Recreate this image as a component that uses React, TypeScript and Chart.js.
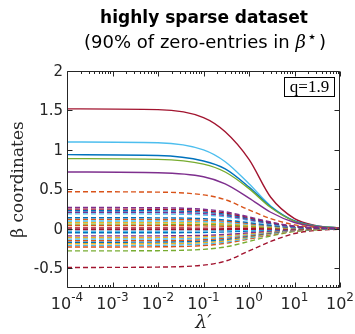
import React, { useEffect, useRef } from "react";
import { Chart, registerables } from "chart.js";

Chart.register(...registerables);

// lambda' sample points (log axis)
const LAMBDA = [1e-4, 1e-2, 0.1, 0.3, 1, 3, 10, 30, 100];

// solid curves (non-zero entries of beta*)
const SOLID_RED = [1.52, 1.51, 1.41, 1.23, 0.88, 0.4, 0.13, 0.04, 0.01];
const SOLID_LIGHTBLUE = [1.1, 1.09, 1.0, 0.85, 0.57, 0.29, 0.1, 0.035, 0.01];
const SOLID_BLUE = [0.94, 0.93, 0.86, 0.76, 0.53, 0.28, 0.1, 0.035, 0.01];
const SOLID_GREEN = [0.89, 0.88, 0.82, 0.72, 0.51, 0.27, 0.095, 0.033, 0.01];
const SOLID_PURPLE = [0.72, 0.71, 0.66, 0.57, 0.39, 0.21, 0.08, 0.028, 0.008];

// dashed curves (zero entries of beta*)
const DASHED_ORANGE = [0.47, 0.465, 0.43, 0.37, 0.24, 0.13, 0.05, 0.018, 0.005];
const DASHED_RED = [-0.49, -0.485, -0.46, -0.41, -0.28, -0.16, -0.06, -0.02, -0.006];
const DASHED_GREEN = [-0.28, -0.277, -0.26, -0.23, -0.16, -0.09, -0.035, -0.012, -0.003];
const DASHED_CLUSTER = [
  [0.27, 0.267, 0.248, 0.216, 0.151, 0.086, 0.032, 0.011, 0.003],
  [0.25, 0.248, 0.23, 0.2, 0.14, 0.08, 0.03, 0.01, 0.003],
  [0.23, 0.228, 0.212, 0.184, 0.129, 0.074, 0.028, 0.009, 0.002],
  [0.21, 0.208, 0.193, 0.168, 0.118, 0.067, 0.025, 0.008, 0.002],
  [0.19, 0.188, 0.175, 0.152, 0.106, 0.061, 0.023, 0.008, 0.002],
  [0.14, 0.139, 0.129, 0.112, 0.078, 0.045, 0.017, 0.006, 0.001],
  [0.12, 0.119, 0.11, 0.096, 0.067, 0.038, 0.014, 0.005, 0.001],
  [0.1, 0.099, 0.092, 0.08, 0.056, 0.032, 0.012, 0.004, 0.001],
  [0.08, 0.079, 0.074, 0.064, 0.045, 0.026, 0.01, 0.003, 0.001],
  [0.06, 0.059, 0.055, 0.048, 0.034, 0.019, 0.007, 0.002, 0.001],
  [0.04, 0.04, 0.037, 0.032, 0.022, 0.013, 0.005, 0.002, 0],
  [0.01, 0.01, 0.009, 0.008, 0.006, 0.003, 0.001, 0, 0],
  [-0.01, -0.01, -0.009, -0.008, -0.006, -0.003, -0.001, 0, 0],
  [-0.03, -0.03, -0.028, -0.024, -0.017, -0.01, -0.004, -0.001, 0],
  [-0.05, -0.05, -0.046, -0.04, -0.028, -0.016, -0.006, -0.002, -0.001],
  [-0.09, -0.089, -0.083, -0.072, -0.05, -0.029, -0.011, -0.004, -0.001],
  [-0.11, -0.109, -0.101, -0.088, -0.062, -0.035, -0.013, -0.004, -0.001],
  [-0.13, -0.129, -0.12, -0.104, -0.073, -0.042, -0.016, -0.005, -0.001],
  [-0.15, -0.149, -0.138, -0.12, -0.084, -0.048, -0.018, -0.006, -0.002],
  [-0.17, -0.168, -0.156, -0.136, -0.095, -0.054, -0.02, -0.007, -0.002],
  [-0.19, -0.188, -0.175, -0.152, -0.106, -0.061, -0.023, -0.008, -0.002],
  [-0.21, -0.208, -0.193, -0.168, -0.118, -0.067, -0.025, -0.008, -0.002],
  [-0.23, -0.228, -0.212, -0.184, -0.129, -0.074, -0.028, -0.009, -0.002],
];

const Y_TICKS = [-0.5, 0, 0.5, 1, 1.5, 2];
const X_EXPONENTS = [-4, -3, -2, -1, 0, 1, 2];

const TITLE_LINE1 = "highly sparse dataset";
const TITLE_LINE2_A = "(90% of zero-entries in ";
const TITLE_LINE2_BETA = "β";
const TITLE_LINE2_STAR = "⋆";
const TITLE_LINE2_B = ")";
const Y_TITLE = "β coordinates";
const X_TITLE = "λ′";
const BOX_TEXT = "q=1.9";

const C = {
  blue: "#0072BD",
  orange: "#D95319",
  yellow: "#EDB120",
  purple: "#7E2F8E",
  green: "#77AC30",
  lightblue: "#4DBEEE",
  red: "#A2142F",
};
const CLUSTER_COLORS = [
  C.purple, C.red, C.blue, C.purple, C.lightblue,
  C.blue, C.orange, C.lightblue, C.yellow, C.green,
  C.orange, C.red, C.red, C.lightblue, C.blue,
  C.purple, C.yellow, C.lightblue, C.orange, C.blue,
  C.yellow, C.lightblue, C.orange,
];

const AXIS = "#262626";

const toPts = (vals: number[]) => vals.map((v, i) => ({ x: LAMBDA[i], y: v }));

const axesPlugin = {
  id: "matlabAxes",
  afterDraw(chart: any) {
    const { ctx, chartArea: a, scales } = chart;
    const xs = scales.x;
    const ys = scales.y;
    ctx.save();
    ctx.strokeStyle = AXIS;
    ctx.fillStyle = AXIS;
    ctx.lineWidth = 1;
    const L = Math.round(a.left) + 0.5;
    const R = Math.round(a.right) - 0.5;
    const T = Math.round(a.top) + 0.5;
    const B = Math.round(a.bottom) - 0.5;
    ctx.beginPath();
    ctx.rect(L, T, R - L, B - T);
    ctx.stroke();

    ctx.beginPath();
    for (let e = -4; e <= 2; e++) {
      const px = Math.round(xs.getPixelForValue(Math.pow(10, e))) + 0.5;
      ctx.moveTo(px, B); ctx.lineTo(px, B - 5);
      ctx.moveTo(px, T); ctx.lineTo(px, T + 5);
      if (e < 2) {
        for (let m = 2; m <= 9; m++) {
          const mx = Math.round(xs.getPixelForValue(m * Math.pow(10, e))) + 0.5;
          ctx.moveTo(mx, B); ctx.lineTo(mx, B - 2.5);
          ctx.moveTo(mx, T); ctx.lineTo(mx, T + 2.5);
        }
      }
    }
    for (const v of Y_TICKS) {
      const py = Math.round(ys.getPixelForValue(v)) + 0.5;
      ctx.moveTo(L, py); ctx.lineTo(L + 5, py);
      ctx.moveTo(R, py); ctx.lineTo(R - 5, py);
    }
    ctx.stroke();

    // y tick labels
    ctx.font = "15px 'DejaVu Sans'";
    ctx.textAlign = "right";
    ctx.textBaseline = "middle";
    for (const v of Y_TICKS) {
      ctx.fillText(String(v), a.left - 4, ys.getPixelForValue(v) + 1);
    }

    // x tick labels 10^e
    ctx.textBaseline = "alphabetic";
    ctx.textAlign = "left";
    for (const e of X_EXPONENTS) {
      const px = xs.getPixelForValue(Math.pow(10, e));
      const base = "10";
      const exp = String(e);
      ctx.font = "16px 'DejaVu Sans'";
      const wb = ctx.measureText(base).width;
      ctx.font = "12px 'DejaVu Sans'";
      const we = ctx.measureText(exp).width;
      const x0 = px - (wb + we) / 2;
      ctx.font = "16px 'DejaVu Sans'";
      ctx.fillText(base, x0, 309);
      ctx.font = "12px 'DejaVu Sans'";
      ctx.fillText(exp, x0 + wb, 301);
    }

    // axis titles
    ctx.textAlign = "center";
    ctx.textBaseline = "middle";
    ctx.font = "italic 19px 'DejaVu Serif'";
    ctx.fillText(X_TITLE, (a.left + a.right) / 2, 323);
    ctx.save();
    ctx.translate(19, (a.top + a.bottom) / 2);
    ctx.rotate(-Math.PI / 2);
    ctx.font = "17px 'DejaVu Serif'";
    ctx.fillText(Y_TITLE, 0, 0);
    ctx.restore();

    // chart title
    ctx.fillStyle = "#000";
    ctx.font = "bold 17px 'DejaVu Sans'";
    ctx.fillText(TITLE_LINE1, 204, 19);
    // line 2 with italic beta and superscript star
    ctx.textAlign = "left";
    ctx.textBaseline = "alphabetic";
    const f2 = "18px 'DejaVu Sans'";
    const fb = "italic 18px 'DejaVu Serif'";
    const fs = "16px 'DejaVu Sans'";
    ctx.font = f2;
    const wA = ctx.measureText(TITLE_LINE2_A).width;
    const wB = ctx.measureText(TITLE_LINE2_B).width;
    ctx.font = fb;
    const wBeta = ctx.measureText(TITLE_LINE2_BETA).width;
    ctx.font = fs;
    const wS = ctx.measureText(TITLE_LINE2_STAR).width;
    let xx = 205 - (wA + wBeta + 1 + wS + 2 + wB) / 2;
    const by = 48;
    ctx.font = f2; ctx.fillText(TITLE_LINE2_A, xx, by); xx += wA;
    ctx.font = fb; ctx.fillText(TITLE_LINE2_BETA, xx, by); xx += wBeta + 1;
    ctx.font = fs; ctx.fillText(TITLE_LINE2_STAR, xx, by - 6); xx += wS + 2;
    ctx.font = f2; ctx.fillText(TITLE_LINE2_B, xx, by);

    // q box
    ctx.fillStyle = "#fff";
    ctx.fillRect(284.5, 77.5, 50, 19);
    ctx.strokeStyle = "#000";
    ctx.strokeRect(284.5, 77.5, 50, 19);
    ctx.fillStyle = "#000";
    ctx.textAlign = "center";
    ctx.textBaseline = "middle";
    ctx.font = "17px 'Liberation Serif'";
    ctx.fillText(BOX_TEXT, 309.5, 88);
    ctx.restore();
  },
};

export default function App() {
  const ref = useRef<HTMLCanvasElement>(null);
  useEffect(() => {
    if (!ref.current) return;
    const dashed: any[] = [];
    DASHED_CLUSTER.forEach((vals, i) => {
      dashed.push({ data: toPts(vals), borderColor: CLUSTER_COLORS[i % CLUSTER_COLORS.length], borderDash: [5, 3] });
    });
    dashed.push({ data: toPts(DASHED_ORANGE), borderColor: C.orange, borderDash: [5, 3] });
    dashed.push({ data: toPts(DASHED_GREEN), borderColor: C.green, borderDash: [5, 3] });
    dashed.push({ data: toPts(DASHED_RED), borderColor: C.red, borderDash: [5, 3] });
    const solid = [
      { data: toPts(SOLID_PURPLE), borderColor: C.purple },
      { data: toPts(SOLID_GREEN), borderColor: C.green },
      { data: toPts(SOLID_BLUE), borderColor: C.blue },
      { data: toPts(SOLID_LIGHTBLUE), borderColor: C.lightblue },
      { data: toPts(SOLID_RED), borderColor: C.red },
    ];
    const datasets = [...dashed, ...solid].map((d) => ({
      ...d,
      borderWidth: 1.4,
      pointRadius: 0,
      fill: false,
      cubicInterpolationMode: "monotone" as const,
    }));
    const chart = new Chart(ref.current, {
      type: "line",
      data: { datasets },
      options: {
        animation: false,
        responsive: false,
        layout: { padding: { left: 67, top: 71, right: 15, bottom: 46 } },
        plugins: { legend: { display: false }, tooltip: { enabled: false }, title: { display: false } },
        scales: {
          x: {
            type: "logarithmic",
            min: 1e-4,
            max: 100,
            ticks: { display: false },
            grid: { display: false },
            border: { display: false },
            afterFit: (s: any) => { s.height = 0; },
          },
          y: {
            min: -0.75,
            max: 2,
            ticks: { display: false },
            grid: { display: false },
            border: { display: false },
            afterFit: (s: any) => { s.width = 0; },
          },
        },
      },
      plugins: [axesPlugin],
    });
    return () => chart.destroy();
  }, []);
  return (
    <div style={{ position: "fixed", left: 0, top: 0, width: 355, height: 334, background: "#fff" }}>
      <canvas ref={ref} width={355} height={334} style={{ width: 355, height: 334 }} />
    </div>
  );
}
